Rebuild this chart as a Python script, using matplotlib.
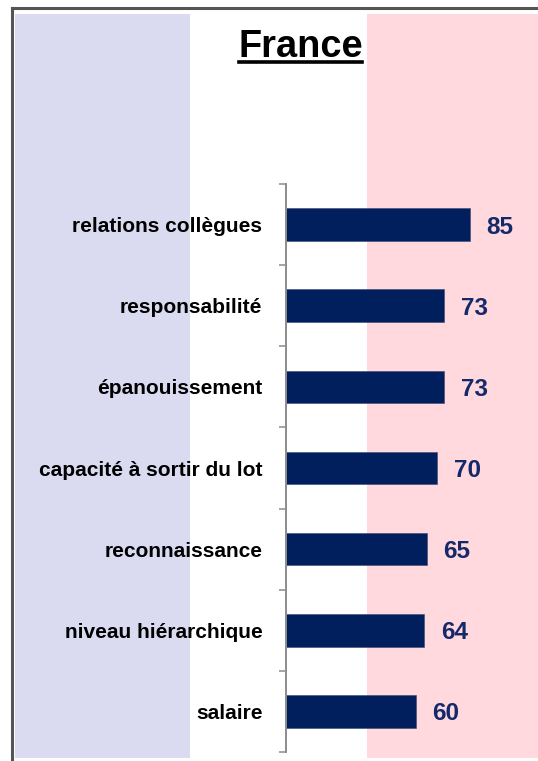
import numpy as np
import matplotlib
matplotlib.use("Agg")
from matplotlib import pyplot as plt
from matplotlib.patches import Rectangle
from matplotlib.lines import Line2D

# Data (top to bottom)
categories = [
    "relations collègues",
    "responsabilité",
    "épanouissement",
    "capacité à sortir du lot",
    "reconnaissance",
    "niveau hiérarchique",
    "salaire",
]
values = [85, 73, 73, 70, 65, 64, 60]
title = "France"

W, H = 538, 761
DPI = 100

plt.rcParams['font.family'] = ['Liberation Sans', 'DejaVu Sans']

fig = plt.figure(figsize=(W / DPI, H / DPI), dpi=DPI)
fig.patch.set_facecolor("white")


def px_rect(x0, y0, x1, y1, **kw):
    """ rectangle given in pixel coords (origin top-left) """
    return Rectangle((x0 / W, 1 - y1 / H), (x1 - x0) / W, (y1 - y0) / H,
                     transform=fig.transFigure, **kw)


# French flag bands (behind the axes)
fig.patches.append(px_rect(15, 14, 190, 758, facecolor="#dadaf0", edgecolor="none", zorder=-10))
fig.patches.append(px_rect(367, 14, 540, 758, facecolor="#ffd9de", edgecolor="none", zorder=-10))

# Outer frame (left + top visible)
fig.lines.append(Line2D([12 / W, 12 / W], [1 - 7.5 / H, 0], transform=fig.transFigure,
                        color="#555555", linewidth=2.2))
fig.lines.append(Line2D([12 / W, 1], [1 - 7.5 / H, 1 - 7.5 / H], transform=fig.transFigure,
                        color="#555555", linewidth=2.2))

# Title with underline
fig.text(300.5 / W, 1 - 57 / H, title, ha="center", va="baseline",
         fontsize=27.4, fontweight="bold", color="black")
fig.lines.append(Line2D([239 / W, 362 / W], [1 - 61.5 / H, 1 - 61.5 / H],
                        transform=fig.transFigure, color="black", linewidth=2.6))

# Axes: left edge at x=286, y from 184 to 752, 0..100 over 216 px
ax_left, ax_top, ax_bottom = 286, 184, 752
ax = fig.add_axes([ax_left / W, 1 - ax_bottom / H, 216.3 / W, (ax_bottom - ax_top) / H])
ax.patch.set_alpha(0)

n = len(categories)
y = np.arange(n)
ax.barh(y, values, height=0.40, color="#001f5c", edgecolor="#3a4a78", linewidth=0.4)

for yi, v in zip(y, values):
    ax.annotate(str(v), (v, yi), xytext=(12, 0), textcoords="offset points",
                ha="left", va="center_baseline", fontsize=17.5, fontweight="bold",
                color="#13296a", annotation_clip=False)

ax.set_xlim(0, 100)
ax.set_ylim(n - 0.5, -0.5)

ax.set_yticks(y)
ax.set_yticklabels(categories, fontsize=15, fontweight="bold")
ax.set_yticks(np.arange(n + 1) - 0.5, minor=True)
ax.tick_params(axis="y", which="major", length=0, pad=17)
ax.tick_params(axis="y", which="minor", length=5, width=1.1, color="#8c8c8c")
ax.set_xticks([])

for side in ["top", "right", "bottom"]:
    ax.spines[side].set_visible(False)
ax.spines["left"].set_color("#8c8c8c")
ax.spines["left"].set_linewidth(1.4)

fig.savefig("out.png", dpi=DPI)
